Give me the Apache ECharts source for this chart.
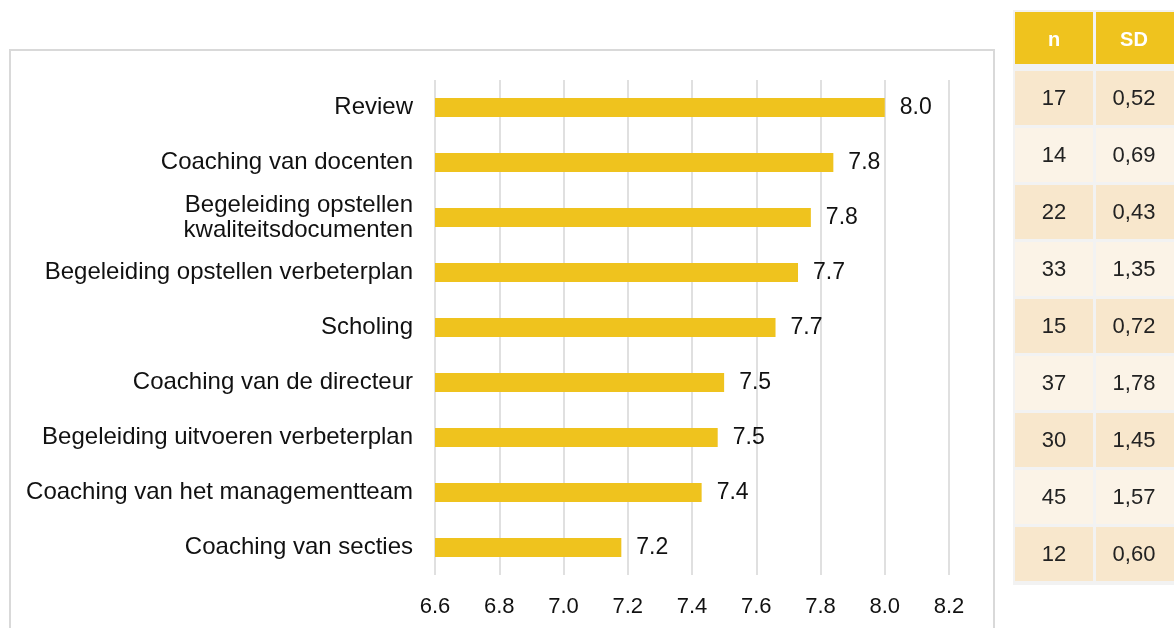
<!DOCTYPE html>
<html>
<head>
<meta charset="utf-8">
<script src="https://cdn.jsdelivr.net/npm/echarts@6/dist/echarts.min.js"></script>
<style>
  html, body { margin: 0; padding: 0; background: #fff; }
  #main { width: 1174px; height: 628px; }
</style>
</head>
<body>
<div id="main"></div>
<script>
// categories (top to bottom)
var categories = [
  'Review',
  'Coaching van docenten',
  'Begeleiding opstellen\nkwaliteitsdocumenten',
  'Begeleiding opstellen verbeterplan',
  'Scholing',
  'Coaching van de directeur',
  'Begeleiding uitvoeren verbeterplan',
  'Coaching van het managementteam',
  'Coaching van secties'
];
// gemiddelde scores
var scores = [8.00, 7.84, 7.77, 7.73, 7.66, 7.50, 7.48, 7.43, 7.18];
// table columns
var nValues = ['17', '14', '22', '33', '15', '37', '30', '45', '12'];
var sdValues = ['0,52', '0,69', '0,43', '1,35', '0,72', '1,78', '1,45', '1,57', '0,60'];
var tableHeader = ['n', 'SD'];

var gold = '#efc31e';
var font = 'Liberation Sans';

var myChart = echarts.init(document.getElementById('main'));

// frame + table on the right, built as graphic elements
var graphics = [
  {
    type: 'rect', z: 0, silent: true,
    shape: { x: 10, y: 50, width: 984, height: 620 },
    style: { fill: 'none', stroke: '#d9d9d9', lineWidth: 2 }
  },
  {
    type: 'rect', z: 0, silent: true,
    shape: { x: 1013, y: 10, width: 170, height: 575 },
    style: { fill: '#f2f2f2' }
  }
];
var colX = [1015, 1096];
var colW = [78, 80];
tableHeader.forEach(function (h, c) {
  graphics.push({
    type: 'rect', z: 1, silent: true,
    shape: { x: colX[c], y: 12, width: colW[c], height: 52 },
    style: { fill: gold }
  });
  graphics.push({
    type: 'text', z: 2, silent: true,
    x: colX[c] + colW[c] / 2 - (c === 1 ? 2 : 0), y: 40,
    style: {
      text: h, fill: '#fff', fontFamily: font, fontSize: 20, fontWeight: 'bold',
      align: 'center', verticalAlign: 'middle'
    }
  });
});
var rowTop = 71, rowH = 54, rowPitch = 57;
nValues.forEach(function (n, i) {
  var y = rowTop + i * rowPitch;
  var fill = i % 2 === 0 ? '#f8e7cc' : '#fbf3e7';
  [n, sdValues[i]].forEach(function (t, c) {
    graphics.push({
      type: 'rect', z: 1, silent: true,
      shape: { x: colX[c], y: y, width: colW[c], height: rowH },
      style: { fill: fill }
    });
    graphics.push({
      type: 'text', z: 2, silent: true,
      x: colX[c] + colW[c] / 2 - (c === 1 ? 2 : 0), y: y + rowH / 2 + 1,
      style: {
        text: t, fill: '#222', fontFamily: font, fontSize: 22,
        align: 'center', verticalAlign: 'middle'
      }
    });
  });
});

myChart.setOption({
  animation: false,
  backgroundColor: '#fff',
  textStyle: { fontFamily: font },
  grid: {
    left: 435,
    right: 225,
    top: 80,
    bottom: 53,
    containLabel: false
  },
  xAxis: {
    type: 'value',
    min: 6.6,
    max: 8.2,
    interval: 0.2,
    axisLine: { show: false },
    axisTick: { show: false },
    axisLabel: {
      color: '#111',
      fontSize: 22,
      margin: 21,
      formatter: function (v) { return v.toFixed(1); }
    },
    splitLine: { show: true, lineStyle: { color: '#e0e0e0', width: 2 } }
  },
  yAxis: {
    type: 'category',
    data: categories,
    inverse: true,
    axisLine: { show: false },
    axisTick: { show: false },
    axisLabel: {
      color: '#111',
      fontSize: 24,
      lineHeight: 25,
      margin: 22,
      align: 'right'
    }
  },
  series: [{
    type: 'bar',
    data: scores,
    barWidth: 19,
    itemStyle: { color: gold },
    label: {
      show: true,
      position: 'right',
      distance: 15,
      color: '#111',
      fontSize: 23,
      formatter: function (p) { return p.value.toFixed(1); }
    }
  }],
  graphic: graphics
});
</script>
</body>
</html>
